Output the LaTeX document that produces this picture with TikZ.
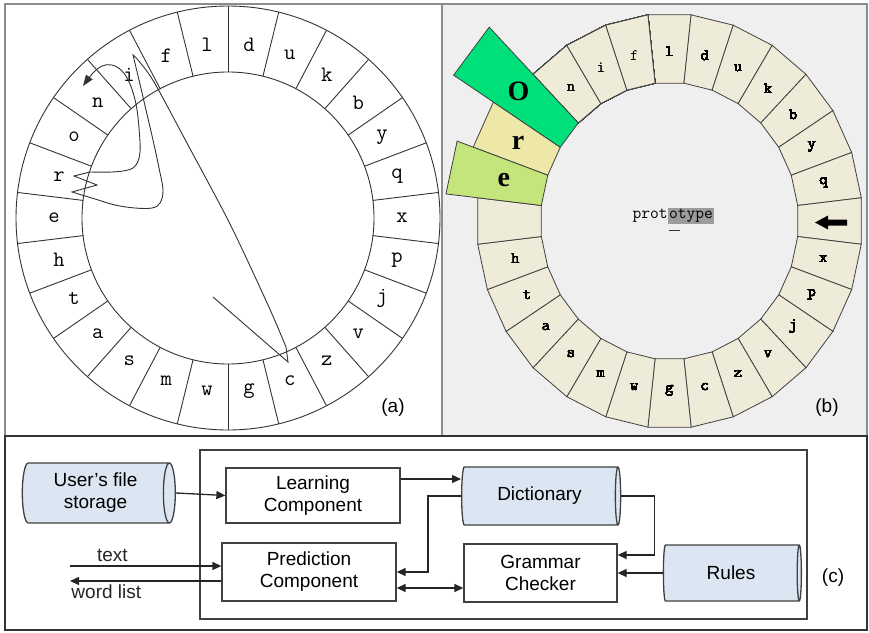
\documentclass[tikz,border=0pt]{standalone}
\usepackage{fontspec}
\setmainfont{Liberation Sans}
\newfontfamily\bigserif{Liberation Serif}
\usetikzlibrary{arrows.meta, positioning, shapes.geometric, calc}

\definecolor{panelgray}{HTML}{EFEFEF}
\definecolor{ringbeige}{HTML}{EEEBD8}
\definecolor{popgreen}{HTML}{00E07A}
\definecolor{popyellow}{HTML}{EEE8A8}
\definecolor{poplime}{HTML}{C4E47C}
\definecolor{storeblue}{HTML}{DCE6F2}
\definecolor{hilite}{HTML}{9C9C9C}

% one key of the polygon ring in panel (b): index, outer radius, fill
\newcommand{\keysector}[3]{%
  \draw[sector, fill=#3] ({#1*360/28-96.4286}:129) -- ({#1*360/28-96.4286}:#2)
    -- ({#1*360/28-83.5714}:#2) -- ({#1*360/28-83.5714}:129) -- cycle;}

\begin{document}
\begin{tikzpicture}[
  x=1pt, y=-1pt,
  font    = \fontsize{19}{22}\selectfont,
  frame/.style  = {draw=black!45, line width=2pt},
  ring/.style   = {draw=black!80, line width=0.9pt},
  key/.style    = {font=\fontsize{22}{22}\selectfont\ttfamily, inner sep=0pt},
  keyb/.style   = {font=\fontsize{16}{16}\selectfont\ttfamily, inner sep=0pt},
  popkey/.style = {font=\fontsize{28}{28}\selectfont\bigserif\bfseries, inner sep=0pt},
  sector/.style = {draw=black!75, line width=0.8pt, fill=ringbeige},
  trace/.style  = {draw=black!80, line width=0.9pt},
  box/.style    = {draw=black!75, line width=1.3pt, fill=white, align=center, inner sep=0pt},
  store/.style  = {cylinder, draw=black!75, line width=1.3pt, fill=storeblue,
                   shape aspect=0.3, align=center, inner sep=0pt},
  arr/.style    = {-{Triangle[length=9pt,width=8pt]}, line width=1.3pt, black!85},
  dblarr/.style = {{Triangle[length=9pt,width=8pt]}-{Triangle[length=9pt,width=8pt]},
                   line width=1.3pt, black!85},
]
\useasboundingbox (0,0) rectangle (869,632);

% panels
\fill[panelgray] (442,4) rectangle (867,436);
\draw[frame] (5,4) rectangle (867,436);
\draw[frame] (442,4) -- (442,436);
\draw[draw=black!80, line width=2pt] (5,436) rectangle (867,630);

% (a) circular keyboard with the gesture trace
\begin{scope}[shift={(228,218)}]
  \draw[ring] (0,0) circle[radius=146];
  \draw[ring] (0,0) circle[radius=212];
  \foreach \k in {0,...,25}
    \draw[ring] ({\k*360/26-90}:146) -- ({\k*360/26-90}:212);
  \foreach \ch [count=\k from 0] in {d,u,k,b,y,q,x,p,j,v,z,c,g,w,m,s,a,t,h,e,r,o,n,i,f,l}
    \node[key] (a\ch) at ({\k*360/26-83.077}:174) {\ch};
\end{scope}

\draw[trace, -{Triangle[length=11pt,width=8pt]}]
  (213,297) -- (288,362) -- (286,347)
  -- plot[smooth, tension=0.5] coordinates {(286,347) (268,305) (230,224) (188,145) (154,82) (138,60) (133,55)}
  -- plot[smooth, tension=0.6] coordinates {(133,55) (139,80) (146,110) (153,140) (159,168) (163,190) (160,203) (152,208) (135,208) (115,205) (95,199) (72,192)}
  -- (97,185) -- (74,176) -- (90,172)
  -- plot[smooth, tension=0.6] coordinates {(90,172) (112,172) (128,170) (136,165) (140,152) (139,128) (136,104) (130,84) (122,71) (112,65) (102,66) (93,73) (83,86)};

\node (laba) at (393,408) {(a)};

% (b) ring with the predicted letters popped out
\begin{scope}[shift={(669.5,221)}, yscale=1.075]
  \foreach \k in {0,...,21}
    \keysector{\k}{193}{ringbeige}
  \foreach \k in {25,26,27}
    \keysector{\k}{193}{ringbeige}
  \foreach \k/\ch in {0/l,1/d,2/u,3/k,4/b,5/y,6/q,8/x,9/p,10/j,11/v,12/z,13/c,
                      14/g,15/w,16/m,17/s,18/a,19/t,20/h,25/n,26/i,27/f}
    \node[keyb] (b\ch) at ({\k*360/28-90}:158) {\ch};
  \keysector{23}{208}{popyellow}
  \keysector{22}{225}{poplime}
  \keysector{24}{255}{popgreen}
  \node[popkey] (pe) at ({22*360/28-90}:170) {e};
  \node[popkey] (pr) at ({23*360/28-90}:168) {r};
  \node[popkey] (po) at ({24*360/28-90}:193) {O};
\end{scope}

% backspace arrow
\fill[black] (815,222.5) -- (828,215.5) -- (828,219.5) -- (847,219.5)
  -- (847,225.5) -- (828,225.5) -- (828,229.5) -- cycle;

\node[font=\fontsize{17}{17}\selectfont\ttfamily, inner sep=0pt] (word) at (673.5,216)
  {prot{\fboxsep=1.5pt\colorbox{hilite}{otype}}};
\draw[line width=1.6pt, black!80] (669,230.5) -- (680,230.5);

\node (labb) at (827,408) {(b)};

% (c) architecture
\draw[line width=1.3pt, black!75] (200,450) rectangle (807,619);

\node[store, minimum height=153pt, minimum width=60pt] (files) at (95.5,493) {User's file\\storage};
\node[box, minimum width=174pt, minimum height=55pt] (learn) at (313,495.5) {Learning\\Component};
\node[store, minimum height=159pt, minimum width=58pt] (dict) at (539.5,496) {Dictionary};
\node[box, minimum width=174pt, minimum height=58pt] (pred) at (309,572) {Prediction\\Component};
\node[box, minimum width=153pt, minimum height=58pt] (gram) at (540.5,573) {Grammar\\Checker};
\node[store, minimum height=138pt, minimum width=56pt] (rules) at (731,573) {Rules};
\node (labc) at (833,578) {(c)};

\coordinate (textin) at (70,566);
\coordinate (wordout) at (70,581);

\draw[arr] (files.east) -- (learn.west);
\draw[arr] (learn.east |- 0,479) -- (dict.west |- 0,479);
\draw[arr] (dict.west) -- ++(-33,0) |- (pred.east);
\draw[arr] (dict.east) -- ++(33,0) |- (gram.east |- 0,555);
\draw[arr] (rules.west) -- (gram.east |- rules.west);
\draw[dblarr] (pred.east |- 0,588) -- (gram.west |- 0,588);
\draw[arr] (textin) -- (pred.west |- textin) node[pos=0.28, above] (txtlab) {text};
\draw[arr] (pred.west |- wordout) -- (wordout) node[pos=0.76, below] (wllab) {word list};

\end{tikzpicture}
\end{document}
